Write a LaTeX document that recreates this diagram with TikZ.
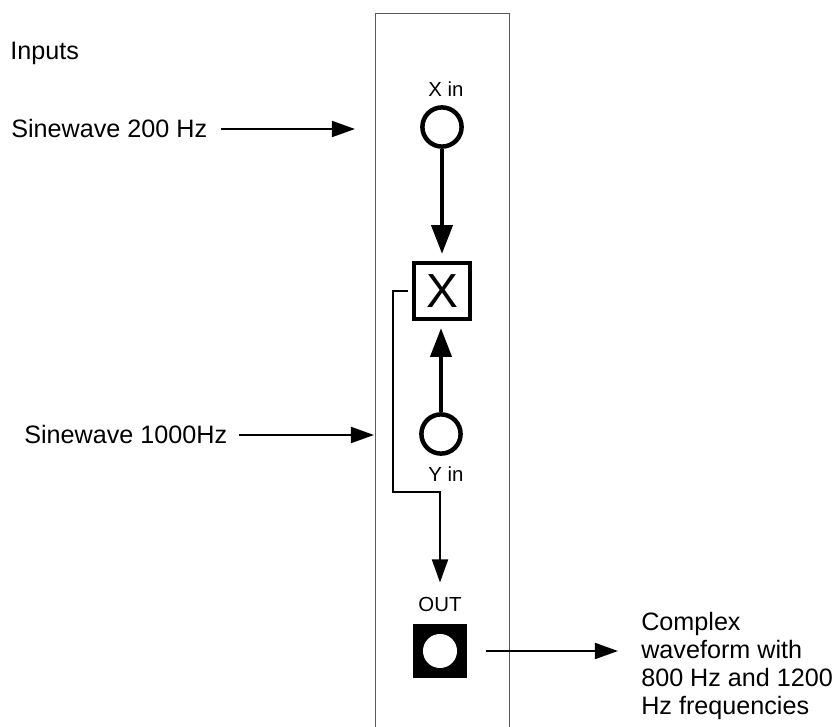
\documentclass[tikz,border=0pt]{standalone}
\usepackage{fontspec}
\setmainfont{Liberation Sans}
\usepackage{tikz}
\usetikzlibrary{arrows.meta}

\begin{document}
\begin{tikzpicture}[x=0.025cm, y=-0.025cm,
    font=\fontsize{17.9}{19.9}\selectfont,
    lbl/.style={inner sep=0pt, font=\fontsize{14.5}{16}\selectfont},
    txt/.style={inner sep=0pt, anchor=west},
    jack/.style={circle, draw, line width=3.2pt, minimum size=0.98cm, inner sep=0pt},
    wire/.style={line width=1.6pt, -{Triangle[length=0.58cm, width=0.4cm]}},
    bus/.style={line width=3.2pt, -{Triangle[length=0.72cm, width=0.52cm]}}]
  \useasboundingbox (0,0) rectangle (838,727);
  % panel
  \draw[black!65, line width=0.7pt] (375,727) -- (375,13) -- (509,13) -- (509,727);
  % inputs
  \node[txt] (inputs) at (10,53) {Inputs};
  \node[txt] (s200) at (11,129) {Sinewave 200 Hz};
  \node[txt] (s1000) at (24,435) {Sinewave 1000Hz};
  \coordinate (pin1) at (355,128);
  \coordinate (pin2) at (374,433);
  \draw[wire] ([xshift=0.35cm]s200.east) -- (s200.east -| pin1);
  \draw[wire] ([xshift=0.28cm]s1000.east) -- (s1000.east -| pin2);
  % multiplier
  \node[lbl] (xlbl) at (446,89) {X in};
  \node[jack] (xin) at (442,127) {};
  \node[draw, line width=3.2pt, minimum size=1.4cm, inner sep=0pt,
        font=\fontsize{34}{36}\selectfont] (mult) at (442,291) {X};
  \node[jack] (yin) at (441,434) {};
  \node[lbl] (ylbl) at (446,474) {Y in};
  \draw[bus] (xin.south) -- ([yshift=0.17cm]mult.north);
  \draw[bus] (yin.north) -- ([yshift=-0.17cm]yin.north |- mult.south);
  % output
  \node[lbl] (outlbl) at (440,604) {OUT};
  \node[fill=black, minimum size=1.325cm, inner sep=0pt] (outjack) at (440,651) {};
  \node[circle, fill=white, minimum size=0.85cm, inner sep=0pt] at (outjack.center) {};
  \draw[wire] ([xshift=-0.1cm]mult.west) -- ++(-15,0) -- ++(0,201)
    -| ([yshift=0.35cm]outlbl.north);
  \coordinate (pout) at (618,650);
  \node[txt, align=left] (cplx) at (641,666)
    {Complex\\waveform with\\800 Hz and 1200\\Hz frequencies};
  \draw[wire] ([xshift=0.475cm]outjack.east) -- (outjack.east -| pout);
\end{tikzpicture}
\end{document}
